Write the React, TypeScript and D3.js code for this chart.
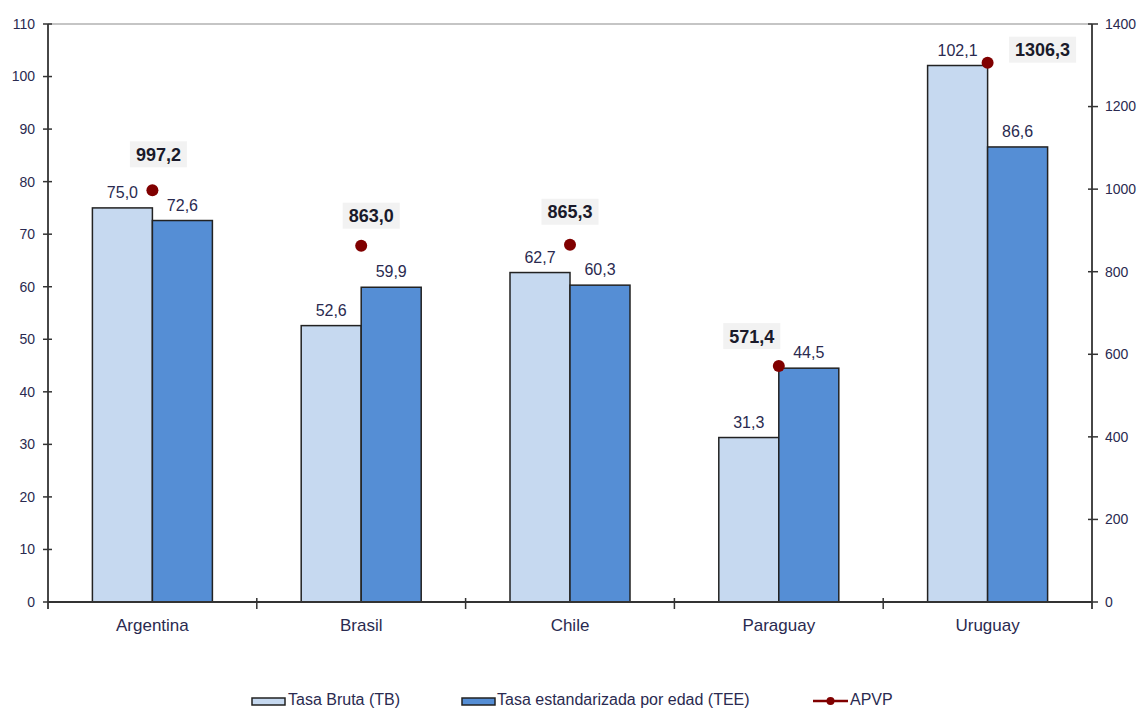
import React, { useEffect, useRef } from "react";
import * as d3 from "d3";

const countries = ["Argentina", "Brasil", "Chile", "Paraguay", "Uruguay"];
const tasaBruta = [75.0, 52.6, 62.7, 31.3, 102.1];
const tasaEstandarizada = [72.6, 59.9, 60.3, 44.5, 86.6];
const apvp = [997.2, 863.0, 865.3, 571.4, 1306.3];
const leftTicks = [0, 10, 20, 30, 40, 50, 60, 70, 80, 90, 100, 110];
const rightTicks = [0, 200, 400, 600, 800, 1000, 1200, 1400];
// label nudges (px) for the APVP value boxes, relative to each point
const apvpLabelDx = [6, 10, 0, -27, 55];
const apvpLabelDy = [-36, -30, -33, -30, -13];

const fmt = (v: number) => v.toFixed(1).replace(".", ",");

const W = 1139;
const H = 709;
const FONT = "'Liberation Sans', Arial, sans-serif";
const TEXT = "#2a2a50";

export default function App() {
  const ref = useRef<SVGSVGElement | null>(null);

  useEffect(() => {
    const svg = d3.select(ref.current);
    svg.selectAll("*").remove();

    const left = 48;
    const right = 1092;
    const top = 24;
    const bottom = 602;

    const x = d3.scaleBand<string>().domain(countries).range([left, right]).padding(0);
    const xs = d3.scaleBand<string>().domain(["tb", "tee"]).range([0, x.bandwidth()]).paddingOuter(0.74).paddingInner(0);
    const center = (c: string) => (x(c) as number) + x.bandwidth() / 2;
    const yL = d3.scaleLinear().domain([0, 110]).range([bottom, top]);
    const yR = d3.scaleLinear().domain([0, 1400]).range([bottom, top]);

    const g = svg.append("g");

    // frame top line
    g.append("line")
      .attr("x1", left).attr("x2", right).attr("y1", top).attr("y2", top)
      .attr("stroke", "#8c8c8c").attr("stroke-width", 1.2);

    // bars
    const series = [
      { key: "tb", values: tasaBruta, fill: "#c6d9f0" },
      { key: "tee", values: tasaEstandarizada, fill: "#558ed5" },
    ];
    const bars = g.append("g");
    series.forEach((s) => {
      countries.forEach((c, i) => {
        const bx = (x(c) as number) + (xs(s.key) as number);
        const v = s.values[i];
        bars.append("rect")
          .attr("x", bx).attr("y", yL(v))
          .attr("width", xs.bandwidth()).attr("height", bottom - yL(v))
          .attr("fill", s.fill).attr("stroke", "#222").attr("stroke-width", 1.5);
        bars.append("text")
          .attr("x", bx + xs.bandwidth() / 2).attr("y", yL(v) - 10)
          .attr("text-anchor", "middle").attr("font-family", FONT).attr("font-size", 16)
          .attr("fill", TEXT).text(fmt(v));
      });
    });

    // left axis
    const axL = g.append("g");
    axL.append("line").attr("x1", left).attr("x2", left).attr("y1", top).attr("y2", 609)
      .attr("stroke", "#333").attr("stroke-width", 1.8);
    leftTicks.forEach((t) => {
      axL.append("line").attr("x1", left - 5).attr("x2", left + 4).attr("y1", yL(t)).attr("y2", yL(t))
        .attr("stroke", "#333").attr("stroke-width", 1.5);
      axL.append("text").attr("x", 35).attr("y", yL(t)).attr("dy", "0.35em")
        .attr("text-anchor", "end").attr("font-family", FONT).attr("font-size", 14)
        .attr("fill", TEXT).text(String(t));
    });

    // right axis
    const axR = g.append("g");
    axR.append("line").attr("x1", right).attr("x2", right).attr("y1", top).attr("y2", 609)
      .attr("stroke", "#333").attr("stroke-width", 1.8);
    rightTicks.forEach((t) => {
      axR.append("line").attr("x1", right - 4).attr("x2", right + 6).attr("y1", yR(t)).attr("y2", yR(t))
        .attr("stroke", "#333").attr("stroke-width", 1.5);
      axR.append("text").attr("x", right + 13).attr("y", yR(t)).attr("dy", "0.35em")
        .attr("text-anchor", "start").attr("font-family", FONT).attr("font-size", 14)
        .attr("fill", TEXT).text(String(t));
    });

    // category axis
    const axX = g.append("g");
    axX.append("line").attr("x1", left).attr("x2", right).attr("y1", bottom).attr("y2", bottom)
      .attr("stroke", "#333").attr("stroke-width", 1.8);
    countries.slice(1).forEach((c) => {
      const xx = x(c) as number;
      axX.append("line").attr("x1", xx).attr("x2", xx).attr("y1", bottom - 4).attr("y2", bottom + 7)
        .attr("stroke", "#333").attr("stroke-width", 1.5);
    });
    countries.forEach((c) => {
      axX.append("text").attr("x", center(c)).attr("y", 631)
        .attr("text-anchor", "middle").attr("font-family", FONT).attr("font-size", 17)
        .attr("fill", TEXT).text(c);
    });

    // APVP points and value boxes
    const pts = g.append("g");
    countries.forEach((c, i) => {
      const px = center(c);
      const py = yR(apvp[i]);
      pts.append("circle").attr("cx", px).attr("cy", py).attr("r", 6).attr("fill", "#800000");
      const lx = px + apvpLabelDx[i];
      const ly = py + apvpLabelDy[i];
      const lg = pts.append("g");
      const rect = lg.append("rect").attr("fill", "#f2f2f2");
      const txt = lg.append("text").attr("x", lx).attr("y", ly).attr("dy", "0.36em")
        .attr("text-anchor", "middle").attr("font-family", FONT).attr("font-size", 18)
        .attr("font-weight", "bold").attr("fill", "#1a1a2a").text(fmt(apvp[i]));
      const bb = (txt.node() as SVGTextElement).getBBox();
      rect.attr("x", bb.x - 6).attr("y", ly - 13).attr("width", bb.width + 12).attr("height", 26);
    });

    // legend
    const leg = g.append("g").attr("font-family", FONT).attr("font-size", 16).attr("fill", TEXT);
    leg.append("rect").attr("x", 252).attr("y", 698).attr("width", 33).attr("height", 7)
      .attr("fill", "#c6d9f0").attr("stroke", "#222").attr("stroke-width", 1.5);
    leg.append("text").attr("x", 288).attr("y", 705).text("Tasa Bruta (TB)");
    leg.append("rect").attr("x", 462).attr("y", 698).attr("width", 33).attr("height", 7)
      .attr("fill", "#558ed5").attr("stroke", "#222").attr("stroke-width", 1.5);
    leg.append("text").attr("x", 497).attr("y", 705).text("Tasa estandarizada por edad (TEE)");
    leg.append("line").attr("x1", 813).attr("x2", 848).attr("y1", 701).attr("y2", 701)
      .attr("stroke", "#800000").attr("stroke-width", 2.5);
    leg.append("circle").attr("cx", 830.5).attr("cy", 701).attr("r", 4).attr("fill", "#800000");
    leg.append("text").attr("x", 850).attr("y", 705).text("APVP");
  }, []);

  return (
    <div style={{ position: "fixed", left: 0, top: 0, width: W, height: H, background: "#fff" }}>
      <svg ref={ref} width={W} height={H} style={{ display: "block" }} />
    </div>
  );
}
